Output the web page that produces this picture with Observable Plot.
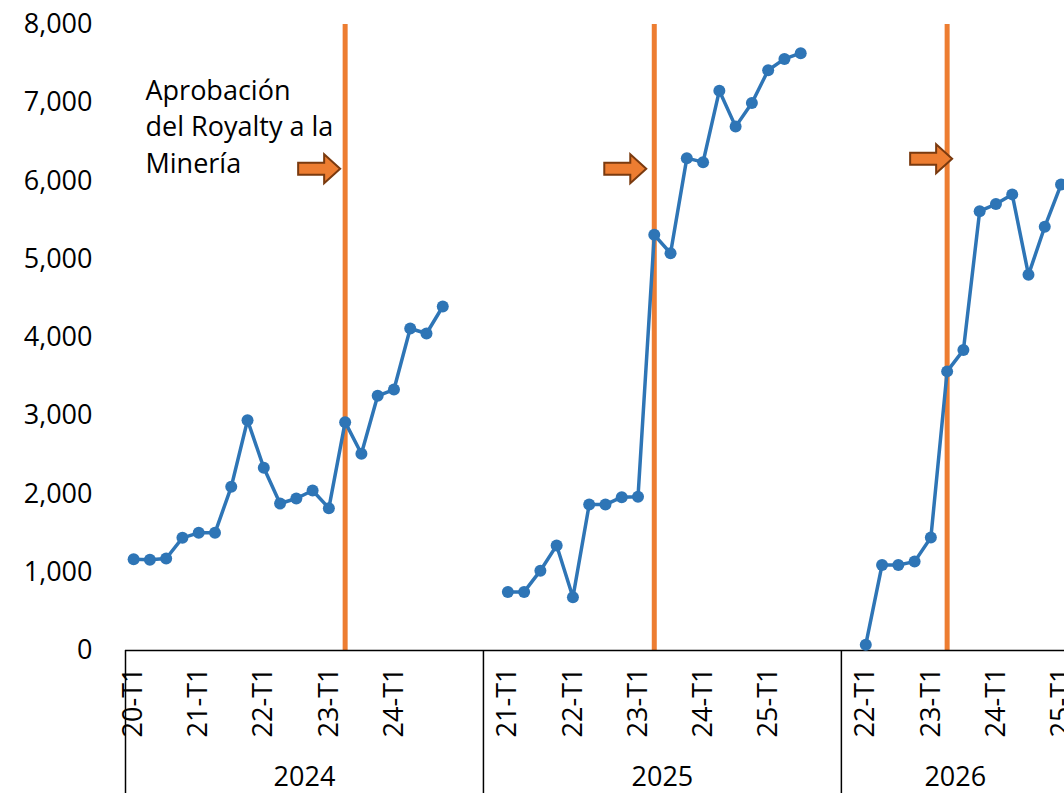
<!DOCTYPE html>
<html>
<head>
<meta charset="utf-8">
<script src="https://cdn.jsdelivr.net/npm/d3@7"></script>
<script src="https://cdn.jsdelivr.net/npm/@observablehq/plot@0.6"></script>
<style>
  html, body { margin: 0; padding: 0; background: #fff; }
  #chart { width: 1064px; height: 793px; overflow: hidden; }
</style>
</head>
<body>
<div id="chart"></div>
<script>
// ---- Data ----
const years = ["2024", "2025", "2026"];

// "" = empty category slot (no label, no value)
const quarters2024 = ["20-T1","20-T2","20-T3","20-T4","21-T1","21-T2","21-T3","21-T4",
  "22-T1","22-T2","22-T3","22-T4","23-T1","23-T2","23-T3","23-T4",
  "24-T1","24-T2","24-T3","24-T4","",""];
const values2024 = [1167,1160,1176,1440,1504,1504,2092,2943,2335,1878,1942,2045,
  1819,2918,2514,3255,3335,4115,4051,4396,null,null];

const quarters2025 = ["","21-T1","21-T2","21-T3","21-T4","22-T1","22-T2","22-T3","22-T4",
  "23-T1","23-T2","23-T3","23-T4","24-T1","24-T2","24-T3","24-T4",
  "25-T1","25-T2","25-T3","",""];
const values2025 = [null,749,749,1020,1343,681,1865,1865,1959,1964,5312,5077,
  6292,6241,7154,6695,6998,7415,7560,7633,null,null];

const quarters2026 = ["","22-T1","22-T2","22-T3","22-T4","23-T1","23-T2","23-T3","23-T4",
  "24-T1","24-T2","24-T3","24-T4","25-T1"];
const values2026 = [null,74,1093,1093,1136,1443,3567,3839,5614,5705,5829,4801,5415,5954];

const shownTickLabels = ["20-T1","21-T1","22-T1","23-T1","24-T1","25-T1"];
const eventQuarter = "23-T2";
const yTicks = [0,1000,2000,3000,4000,5000,6000,7000,8000];
const annotationText = "Aprobación\ndel Royalty a la\nMinería";
const arrowValues = [6156, 6156, 6284];   // vertical position of each arrow
const arrowOffsets = [-5, -8, 5];          // tip offset from the event line, px

// ---- Styling / layout ----
const blue = "#2E75B6";
const orange = "#ED7D31";
const brown = "#7A3A0F";
const W = 1064, H = 793;
const mLeft = 125, mTop = 24, mBottom = 143;
const innerH = H - mTop - mBottom;
const slotPx = 16.27;
const font = "'Open Sans', 'Noto Sans', sans-serif";

// ---- Build rows ----
const groups = [
  {year: years[0], quarters: quarters2024, values: values2024},
  {year: years[1], quarters: quarters2025, values: values2025},
  {year: years[2], quarters: quarters2026, values: values2026}
];
const rows = [];
const bounds = [0];
let start = 0;
groups.forEach(g => {
  g.start = start;
  g.quarters.forEach((q, i) => rows.push({year: g.year, quarter: q, slot: start + i + 0.5, value: g.values[i]}));
  start += g.quarters.length;
  g.end = start;
  bounds.push(start);
});
const totalSlots = start;
const points = rows.filter(d => d.value != null);
const tickRows = rows.filter(d => shownTickLabels.includes(d.quarter));
const eventRows = rows.filter(d => d.quarter === eventQuarter);
const groupRows = groups.map(g => ({year: g.year, center: (g.start + g.end) / 2}));

const arrowSymbol = {
  draw(ctx) {
    ctx.moveTo(-42, -6);
    ctx.lineTo(-16, -6);
    ctx.lineTo(-16, -14.5);
    ctx.lineTo(0, 0);
    ctx.lineTo(-16, 14.5);
    ctx.lineTo(-16, 6);
    ctx.lineTo(-42, 6);
    ctx.closePath();
  }
};

const arrowMarks = eventRows.map((e, i) => Plot.dot([{slot: e.slot, value: arrowValues[i]}], {
  x: "slot", y: "value", symbol: arrowSymbol, r: 5,
  fill: orange, stroke: brown, strokeWidth: 2, dx: arrowOffsets[i]
}));

const chart = Plot.plot({
  width: W,
  height: H,
  marginLeft: mLeft,
  marginRight: 0,
  marginTop: mTop,
  marginBottom: mBottom,
  style: {fontFamily: font, fontSize: "27px", color: "black", background: "white"},
  x: {domain: [0, totalSlots], range: [mLeft, mLeft + totalSlots * slotPx], axis: null},
  y: {domain: [0, 8000], ticks: yTicks, tickFormat: d3.format(","), tickSize: 0, tickPadding: 33, label: null},
  marks: [
    Plot.ruleX(eventRows, {x: "slot", y1: 0, y2: 8000, stroke: orange, strokeWidth: 5}),
    Plot.ruleY([0], {stroke: "black", strokeWidth: 1.5}),
    Plot.ruleX(bounds, {x: d => d, stroke: "black", strokeWidth: 1.5, insetTop: innerH, insetBottom: -mBottom}),
    Plot.line(rows, {x: "slot", y: "value", z: "year", stroke: blue, strokeWidth: 3.5}),
    Plot.dot(points, {x: "slot", y: "value", r: 6, fill: blue}),
    Plot.text(tickRows, {x: "slot", y: () => 0, text: "quarter", rotate: -90, textAnchor: "end",
      dy: 17, fontSize: 27, fill: "black"}),
    Plot.text(groupRows, {x: "center", y: () => 0, text: "year", dy: 127, fontSize: 27, fill: "black"}),
    Plot.text([annotationText], {frameAnchor: "top-left", dx: 20, dy: 50, textAnchor: "start",
      lineAnchor: "top", lineHeight: 1.34, fontSize: 27, fill: "black"}),
    ...arrowMarks
  ]
});
document.getElementById("chart").appendChild(chart);
</script>
</body>
</html>
